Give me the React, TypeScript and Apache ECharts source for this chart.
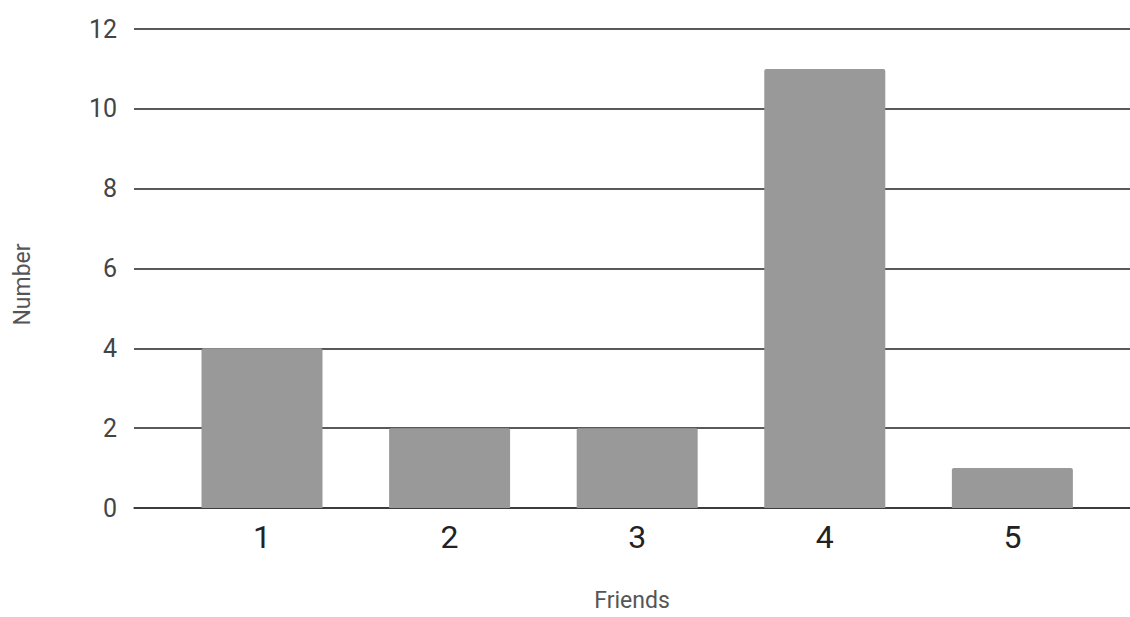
import React, { useEffect, useRef } from "react";
import * as echarts from "echarts";

const friends = [1, 2, 3, 4, 5];
const counts = [4, 2, 2, 11, 1];
const yTicks = [0, 2, 4, 6, 8, 10, 12];

export default function App() {
  const ref = useRef<HTMLDivElement>(null);
  useEffect(() => {
    if (!ref.current) return;
    const chart = echarts.init(ref.current, undefined, { renderer: "svg" });
    chart.setOption({
      animation: false,
      backgroundColor: "#ffffff",
      textStyle: { fontFamily: "Roboto" },
      grid: { left: 134, right: 0, top: 29, bottom: 105, containLabel: false },
      xAxis: {
        type: "value",
        min: 0.3177,
        max: 5.627,
        name: "Friends",
        nameLocation: "middle",
        nameGap: 81,
        nameTextStyle: { fontSize: 23, color: "#555555", fontFamily: "Roboto" },
        axisLine: { show: true, lineStyle: { color: "#333333", width: 1.5 } },
        axisTick: { show: false },
        splitLine: { show: false },
        axisLabel: {
          customValues: friends,
          fontSize: 32,
          color: "#222222",
          margin: 13,
          fontFamily: "Roboto",
        },
      },
      yAxis: {
        type: "value",
        min: yTicks[0],
        max: yTicks[yTicks.length - 1],
        interval: 2,
        name: "Number",
        nameLocation: "middle",
        nameGap: 100,
        nameRotate: 90,
        nameTextStyle: {
          fontSize: 23,
          color: "#555555",
          fontFamily: "Roboto",
          padding: [0, 32, 0, 0],
        },
        axisLine: { show: false },
        axisTick: { show: false },
        splitLine: { show: true, lineStyle: { color: "#222222", width: 1.5 } },
        axisLabel: {
          fontSize: 25,
          color: "#444444",
          margin: 17,
          fontFamily: "Roboto",
        },
      },
      series: [
        {
          type: "bar",
          data: friends.map((f, i) => [f, counts[i]]),
          barWidth: 121,
          itemStyle: { color: "#999999", borderRadius: [2, 2, 0, 0] },
        },
      ],
    });
    return () => chart.dispose();
  }, []);
  return (
    <div
      ref={ref}
      style={{ position: "fixed", left: 0, top: 0, width: 1130, height: 617 }}
    />
  );
}
